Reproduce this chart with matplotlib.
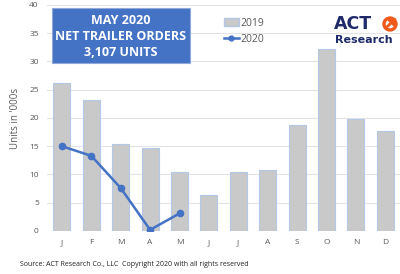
import matplotlib
matplotlib.use("Agg")
import matplotlib.pyplot as plt
from matplotlib.patches import FancyBboxPatch, Ellipse, FancyArrowPatch
from matplotlib.lines import Line2D
from matplotlib.patches import Patch

months = ["J", "F", "M", "A", "M", "J", "J", "A", "S", "O", "N", "D"]
orders_2019 = [26.2, 23.1, 15.4, 14.6, 10.5, 6.3, 10.4, 10.8, 18.7, 32.2, 19.9, 17.7]
orders_2020 = [15.0, 13.3, 7.6, 0.2, 3.107]
yticks = [0, 5, 10, 15, 20, 25, 30, 35, 40]

plt.rcParams['font.family'] = ['Open Sans', 'DejaVu Sans']
fig = plt.figure(figsize=(4.0, 2.74), dpi=100)
ax = fig.add_axes([0.118, 0.157, 0.882, 0.825])

x = list(range(len(months)))
ax.bar(x, orders_2019, width=0.58, color="#c9c9c9", edgecolor="#b4c7e7", linewidth=0.8, zorder=2, label="2019")
ax.plot(range(len(orders_2020)), orders_2020, color="#4472c4", lw=1.8, marker="o", ms=4.5, zorder=3, label="2020")

ax.set_xlim(-0.5, 11.5)
ax.set_ylim(0, 40)
ax.set_yticks(yticks)
ax.set_xticks(x)
ax.set_xticklabels(months)
ax.tick_params(axis="both", length=0, labelsize=6, labelcolor="#595959")
ax.tick_params(axis="x", pad=6)
ax.tick_params(axis="y", pad=6)
for s in ax.spines.values():
    s.set_visible(False)
ax.grid(axis="y", color="#e3e3e3", lw=0.8, zorder=0)
ax.set_axisbelow(True)
ax.set_ylabel("Units in '000s", fontsize=7, color="#595959", labelpad=6)

# legend
handles = [Patch(facecolor="#c9c9c9", edgecolor="#b4c7e7"),
           Line2D([0], [0], color="#4472c4", lw=1.8, marker="o", ms=3.5)]
leg = ax.legend(handles, ["2019", "2020"], loc="upper left", bbox_to_anchor=(0.475, 0.985),
                frameon=False, fontsize=7.5, labelcolor="#595959", handlelength=1.4,
                handletextpad=0.2, labelspacing=0.5)

# title box
box = FancyBboxPatch((52/400, 1-63/274), 138/400, 55/274, boxstyle="square,pad=0",
                     transform=fig.transFigure, facecolor="#4472c4", edgecolor="#8fa9dc", lw=0.8, zorder=5)
fig.patches.append(box)
fig.text(121/400, 1-37/274, "MAY 2020\nNET TRAILER ORDERS\n3,107 UNITS", ha="center", va="center",
         color="white", fontsize=9, fontweight="bold", linespacing=1.3, zorder=6)

# logo
fig.text(334/400, 1-24/274, "ACT", ha="left", va="center", color="#1f2a6b", fontsize=12.5,
         fontweight="bold", family=["DejaVu Sans"])
cx, cy = 390/400, 1-24/274
circ = Ellipse((cx, cy), 12/400, 12/274, transform=fig.transFigure, facecolor="none",
               edgecolor="#f05a1a", lw=2.4)
fig.patches.append(circ)
arr = FancyArrowPatch((cx - 2.5/400, cy - 2.5/274), (cx + 6/400, cy + 6/274), transform=fig.transFigure,
                      arrowstyle="-|>,head_length=3,head_width=2.5", color="#f05a1a", lw=2.0,
                      shrinkA=0, shrinkB=0)
fig.patches.append(arr)
fig.text(335/400, 1-40/274, "Research", ha="left", va="center", color="#1f2a6b", fontsize=8,
         fontweight="bold", family=["DejaVu Sans"])

fig.text(20/400, 1-265/274, "Source: ACT Research Co., LLC  Copyright 2020 with all rights reserved",
         ha="left", va="center", fontsize=5, color="#222222")

fig.savefig("out.png", dpi=100)
